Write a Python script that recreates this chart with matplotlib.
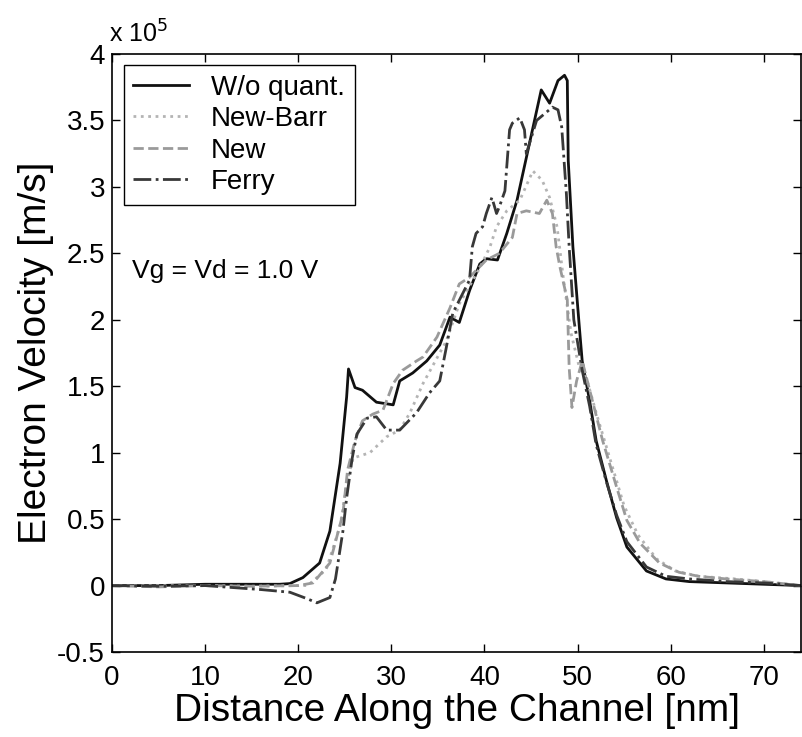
import matplotlib
matplotlib.use('Agg')
import matplotlib.pyplot as plt
from matplotlib.ticker import FuncFormatter

plt.rcParams['font.family'] = ['Liberation Sans', 'DejaVu Sans']

# ── Data (velocity in units of 1e5 m/s) ──────────────────────────────────────
x_woq = [0, 5, 10, 15, 18, 19.1, 20.5, 22.3, 23.4, 24.5, 25.2, 25.4, 26.1, 26.9,
         28.4, 30.2, 30.9, 32.3, 33.8, 35.2, 36.3, 37.3, 38.4, 39.5, 40.2, 41.4,
         42.4, 43.5, 44.5, 46.1, 47.0, 47.9, 48.6, 48.9, 49.0, 49.5, 50.2, 50.5,
         51.3, 52.0, 53.1, 54.2, 55.3, 57.4, 59.5, 62, 66, 70, 74]
v_woq = [0, 0, 0.01, 0.01, 0.01, 0.015, 0.06, 0.17, 0.41, 0.92, 1.42, 1.63, 1.49,
         1.47, 1.38, 1.36, 1.54, 1.60, 1.69, 1.81, 2.02, 1.98, 2.22, 2.42, 2.46,
         2.45, 2.65, 2.90, 3.22, 3.73, 3.63, 3.80, 3.84, 3.80, 3.20, 2.55, 1.94,
         1.69, 1.39, 1.09, 0.79, 0.51, 0.29, 0.11, 0.05, 0.03, 0.02, 0.01, 0.0]

x_nb = [0, 5, 10, 15, 20, 21.0, 23.0, 24.5, 25.3, 25.9, 27.7, 29.5, 30.9, 32.0,
        33.4, 35.9, 37.3, 39.5, 40.6, 41.3, 42.4, 43.8, 45.2, 46.2, 47.0, 47.8,
        48.5, 49.3, 50.2, 51.0, 52.0, 53.5, 55.0, 56.5, 58.5, 60.5, 63, 67, 70, 74]
v_nb = [0, 0, 0, -0.005, 0, 0.0, 0.12, 0.45, 0.80, 0.96, 1.00, 1.12, 1.17, 1.30,
        1.52, 1.84, 2.12, 2.39, 2.55, 2.70, 2.82, 2.90, 3.12, 3.05, 2.92, 2.70,
        2.30, 1.90, 1.64, 1.55, 1.30, 0.95, 0.60, 0.38, 0.20, 0.11, 0.07, 0.05,
        0.03, 0.0]

x_new = [0, 5, 10, 15, 20, 21.6, 23.4, 24.8, 25.3, 26.1, 26.9, 28.0, 29.1, 30.2,
         31.2, 32.7, 33.4, 34.9, 36.3, 37.3, 38.4, 40.2, 41.6, 43.0, 43.5, 44.5,
         45.9, 46.7, 47.3, 47.7, 48.1, 48.9, 49.1, 49.4, 49.9, 50.5, 51.6, 52.7,
         54.2, 55.3, 56.7, 58.8, 60.9, 63, 66, 70, 74]
v_new = [0, -0.01, 0, -0.005, 0, 0.02, 0.17, 0.54, 0.87, 1.09, 1.24, 1.29, 1.32,
         1.52, 1.62, 1.69, 1.72, 1.87, 2.09, 2.27, 2.32, 2.45, 2.50, 2.62, 2.80,
         2.82, 2.80, 2.90, 2.80, 2.55, 2.40, 2.15, 1.64, 1.34, 1.54, 1.69, 1.39,
         1.09, 0.74, 0.49, 0.32, 0.17, 0.10, 0.07, 0.05, 0.03, 0.0]

x_fer = [0, 5, 10, 13, 16, 19.1, 21, 22.0, 23.4, 24.0, 24.8, 25.2, 25.8, 26.3,
         27.4, 28.4, 29.5, 30.9, 32.7, 34.1, 35.2, 35.9, 36.6, 38.4, 38.7, 39.1,
         39.8, 40.2, 40.8, 41.3, 41.6, 42.2, 42.7, 43.0, 43.8, 44.3, 44.5, 45.6,
         47.3, 47.9, 48.3, 48.8, 49.1, 49.6, 50.5, 51.3, 52.0, 53.1, 54.2, 55.3,
         57.4, 59.5, 62, 66, 70, 74]
v_fer = [0, -0.005, 0, -0.015, -0.03, -0.05, -0.1, -0.13, -0.09, 0.05, 0.41,
         0.66, 0.96, 1.14, 1.26, 1.27, 1.17, 1.17, 1.30, 1.45, 1.54, 1.79, 2.05,
         2.30, 2.55, 2.65, 2.70, 2.80, 2.92, 2.80, 2.85, 2.97, 3.43, 3.48, 3.52,
         3.43, 3.25, 3.50, 3.60, 3.58, 3.45, 2.95, 2.55, 2.00, 1.62, 1.35, 1.06,
         0.78, 0.53, 0.33, 0.14, 0.07, 0.05, 0.03, 0.02, 0.0]

x_ticks = [0, 10, 20, 30, 40, 50, 60, 70]
y_ticks = [-0.5, 0, 0.5, 1, 1.5, 2, 2.5, 3, 3.5, 4]

# ── Figure ───────────────────────────────────────────────────────────────────
fig = plt.figure(figsize=(8.03, 7.37), dpi=100)
ax = fig.add_axes([0.1395, 0.1153, 0.8580, 0.8114])

ax.plot(x_woq, v_woq, color='#111111', lw=2.0, ls='-', label='W/o quant.')
ax.plot(x_nb, v_nb, color='#b4b4b4', lw=2.0, ls=':', label='New-Barr')
ax.plot(x_new, v_new, color='#9a9a9a', lw=2.0, ls='--', label='New')
ax.plot(x_fer, v_fer, color='#383838', lw=2.0, ls='-.', label='Ferry')

ax.set_xlim(0, 74)
ax.set_ylim(-0.5, 4)
ax.set_xticks(x_ticks)
ax.set_yticks(y_ticks)
ax.yaxis.set_major_formatter(FuncFormatter(lambda v, p: f'{v:g}'))
ax.tick_params(direction='in', length=6, width=1, top=True, right=True,
               labelsize=20, pad=5)
ax.tick_params(axis='x', pad=9)
for sp in ax.spines.values():
    sp.set_linewidth(1.2)

ax.set_xlabel('Distance Along the Channel [nm]', fontsize=28, labelpad=2)
ax.set_ylabel('Electron Velocity [m/s]', fontsize=28, labelpad=2)

ax.text(2.1, 2.37, 'Vg = Vd = 1.0 V', fontsize=19, va='center', ha='left')
ax.text(-0.004, 1.01, r'x 10$^5$', transform=ax.transAxes, fontsize=18,
        ha='left', va='bottom')

leg = ax.legend(loc='upper left', bbox_to_anchor=(0.017, 0.982), fontsize=20,
                frameon=True, fancybox=False, framealpha=1, edgecolor='black',
                handlelength=2.0, borderaxespad=0, borderpad=0.35,
                labelspacing=0.2, handletextpad=0.8)
leg.get_frame().set_linewidth(1.0)

fig.savefig('out.png', dpi=100)
